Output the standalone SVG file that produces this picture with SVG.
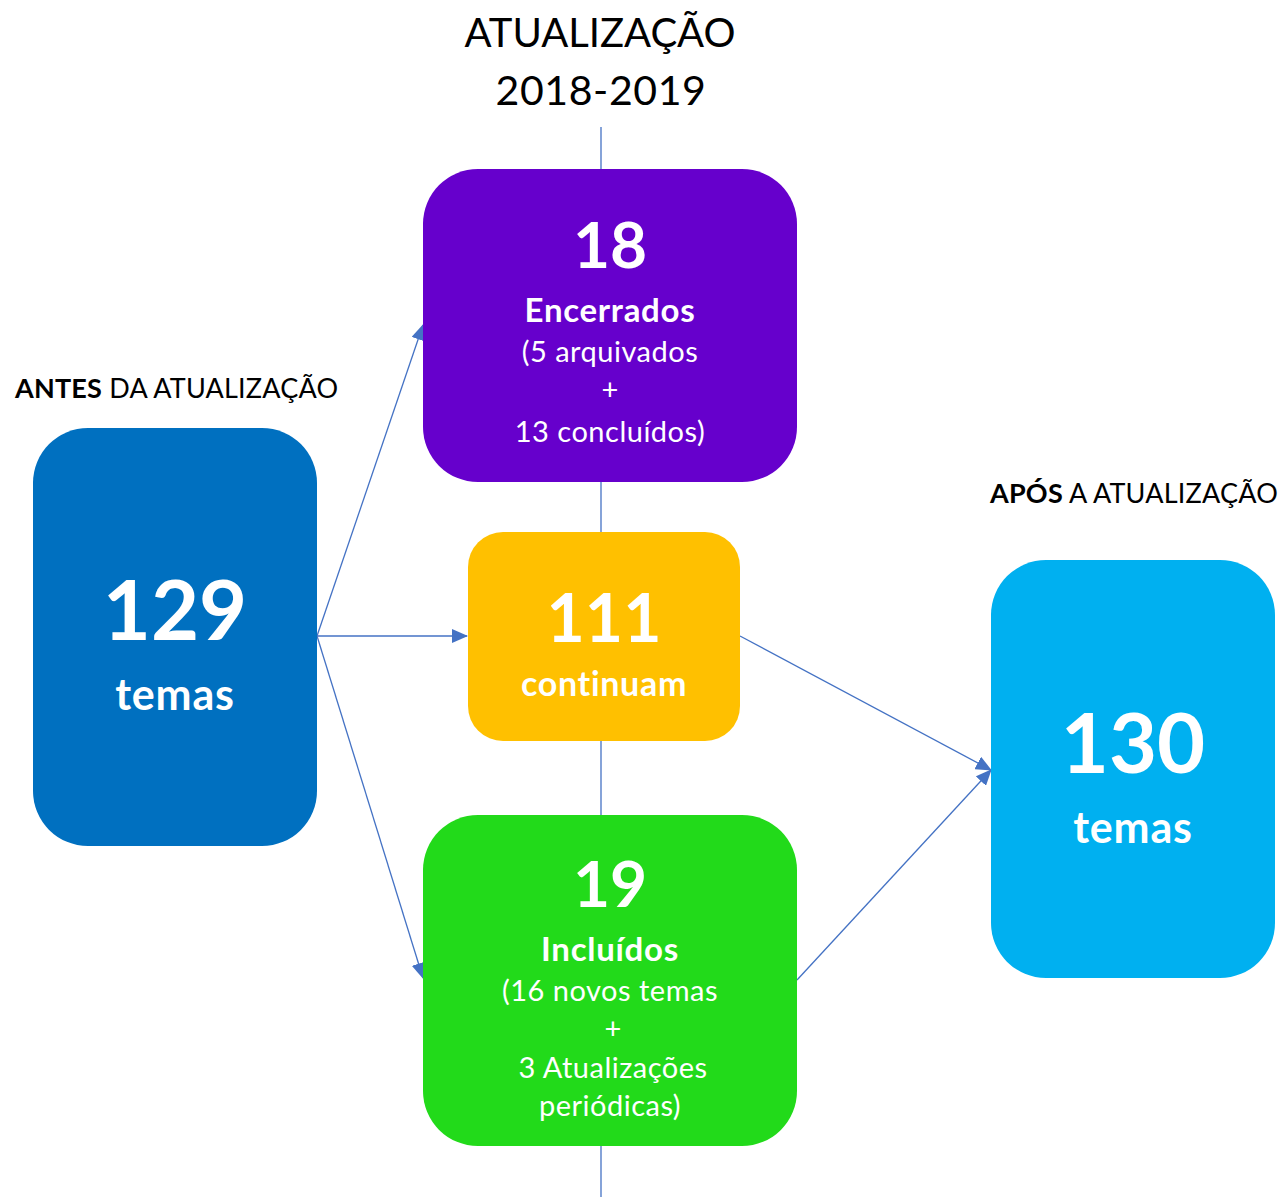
<svg xmlns="http://www.w3.org/2000/svg" width="1283" height="1197" viewBox="0 0 1283 1197">
<style>
text{font-family:Lato,"Open Sans","Liberation Sans",sans-serif;}
.w{fill:#fff;text-anchor:middle;}
.b{font-weight:bold;}
.k{fill:#000;}
.c{stroke:#4472C4;stroke-width:1.3;fill:none;}
</style>
<defs>
<marker id="ah2" markerWidth="16" markerHeight="14" refX="15" refY="7" orient="auto" markerUnits="userSpaceOnUse" viewBox="0 0 16 14">
<path d="M0,0 L16,7 L0,14 z" fill="#4472C4"/>
</marker>
</defs>
<rect width="1283" height="1197" fill="#fff"/>
<text x="600" y="47" font-size="40" text-anchor="middle" class="k">ATUALIZAÇÃO</text>
<text x="601" y="105" font-size="41" letter-spacing="0.6" text-anchor="middle" class="k">2018-2019</text>
<text x="15" y="398" font-size="27" letter-spacing="0.2" class="k"><tspan font-weight="bold">ANTES</tspan> DA ATUALIZAÇÃO</text>
<text x="990" y="503" font-size="27" letter-spacing="0.2" class="k"><tspan font-weight="bold">APÓS</tspan> A ATUALIZAÇÃO</text>
<g id="connectors">
<line class="c" x1="601" y1="127" x2="601" y2="1197"/>
<line class="c" x1="317" y1="636" x2="423" y2="325" marker-end="url(#ah2)"/>
<line class="c" x1="317" y1="636" x2="467" y2="636" marker-end="url(#ah2)"/>
<line class="c" x1="317" y1="636" x2="423" y2="978" marker-end="url(#ah2)"/>
<line class="c" x1="740" y1="636" x2="991" y2="770" marker-end="url(#ah2)"/>
<line class="c" x1="797" y1="980" x2="991" y2="770" marker-end="url(#ah2)"/>
</g>
<g id="node-antes">
<rect x="33" y="428" width="284" height="418" rx="55" fill="#0070C0"/>
<text x="175" y="640" font-size="83" class="w b">129</text>
<text x="175" y="710" font-size="43" letter-spacing="0.8" class="w b">temas</text>
</g>
<g id="node-encerrados">
<rect x="423" y="169" width="374" height="313" rx="55" fill="#6600CC"/>
<text x="610" y="268" font-size="64" class="w b">18</text>
<text x="610" y="322" font-size="33" letter-spacing="0.7" class="w b">Encerrados</text>
<text x="610" y="362" font-size="29" letter-spacing="0.5" class="w">(5 arquivados</text>
<text x="610" y="400" font-size="29" class="w">+</text>
<text x="610" y="442" font-size="29" letter-spacing="0.5" class="w">13 concluídos)</text>
</g>
<g id="node-continuam">
<rect x="468" y="532" width="272" height="209" rx="35" fill="#FFC000"/>
<text x="604" y="642" font-size="66" class="w b">111</text>
<text x="604" y="696" font-size="34" letter-spacing="0.7" class="w b">continuam</text>
</g>
<g id="node-incluidos">
<rect x="423" y="815" width="374" height="331" rx="55" fill="#22DA1A"/>
<text x="610" y="907" font-size="64" class="w b">19</text>
<text x="610" y="961" font-size="33" letter-spacing="0.7" class="w b">Incluídos</text>
<text x="610" y="1001" font-size="29" letter-spacing="0.5" class="w">(16 novos temas</text>
<text x="613" y="1039" font-size="29" class="w">+</text>
<text x="613" y="1078" font-size="29" letter-spacing="0.5" class="w">3 Atualizações</text>
<text x="610" y="1116" font-size="29" letter-spacing="0.5" class="w">periódicas)</text>
</g>
<g id="node-apos">
<rect x="991" y="560" width="284" height="418" rx="55" fill="#00B0F0"/>
<text x="1133" y="773" font-size="83" class="w b">130</text>
<text x="1133" y="843" font-size="43" letter-spacing="0.8" class="w b">temas</text>
</g>
</svg>
